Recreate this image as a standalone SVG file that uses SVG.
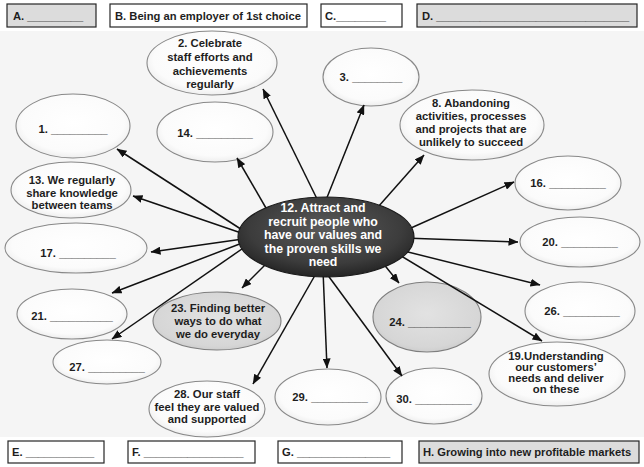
<svg xmlns="http://www.w3.org/2000/svg" width="644" height="467" viewBox="0 0 644 467">
  <style>
    text { font-family: "Liberation Sans", Arial, sans-serif; font-weight: bold; fill: #1e1e1e; }
    .box { stroke: #262626; stroke-width: 1.2; fill: #ffffff; }
    .box.shade { fill: #dcdcdc; }
    .bt { font-size: 11.2px; }
    .node { stroke: #888888; stroke-width: 1.1; fill: url(#gWhite); }
    .node.grey { fill: url(#gGrey); stroke: #7e7e7e; }
    .nt { font-size: 11.3px; text-anchor: middle; }
    .ct { font-size: 12.3px; text-anchor: middle; fill: #ffffff; }
    .link { stroke: #111111; stroke-width: 1.5; fill: none; marker-end: url(#ah); }
  </style>
  <defs>
    <radialGradient id="gWhite" cx="50%" cy="45%" r="60%">
      <stop offset="0" stop-color="#ffffff"/>
      <stop offset="0.75" stop-color="#fbfbfb"/>
      <stop offset="1" stop-color="#e8e8e8"/>
    </radialGradient>
    <radialGradient id="gGrey" cx="50%" cy="45%" r="60%">
      <stop offset="0" stop-color="#e2e2e2"/>
      <stop offset="0.8" stop-color="#d6d6d6"/>
      <stop offset="1" stop-color="#c8c8c8"/>
    </radialGradient>
    <radialGradient id="gDark" cx="50%" cy="40%" r="62%">
      <stop offset="0" stop-color="#5a5a5a"/>
      <stop offset="0.7" stop-color="#3c3c3c"/>
      <stop offset="1" stop-color="#222222"/>
    </radialGradient>
    <marker id="ah" markerWidth="10" markerHeight="8" refX="9.5" refY="4" orient="auto" markerUnits="userSpaceOnUse">
      <path d="M0,0 L10,4 L0,8 Z" fill="#111111"/>
    </marker>
  </defs>

  <!-- page and central panel -->
  <rect x="0" y="0" width="644" height="467" fill="#ffffff"/>
  <rect x="0" y="31" width="644" height="406" fill="#f5f5f5"/>

  <!-- heading boxes -->
  <g id="box-a"><rect class="box shade" x="7" y="4" width="89" height="23"/><text class="bt" x="13" y="20">A. _________</text></g>
  <g id="box-b"><rect class="box" x="110" y="4" width="197" height="23"/><text class="bt" x="115" y="20">B. Being an employer of 1st choice</text></g>
  <g id="box-c"><rect class="box" x="321" y="4" width="81" height="23"/><text class="bt" x="325" y="20">C.________</text></g>
  <g id="box-d"><rect class="box shade" x="417" y="4" width="220" height="23"/><text class="bt" x="422" y="20">D. _______________________________</text></g>

  <g id="box-e"><rect class="box" x="8" y="441" width="96" height="22"/><text class="bt" x="12" y="456">E. ___________</text></g>
  <g id="box-f"><rect class="box" x="128" y="441" width="127" height="22"/><text class="bt" x="132" y="456">F. ________________</text></g>
  <g id="box-g"><rect class="box" x="278" y="441" width="124" height="22"/><text class="bt" x="282" y="456">G. _______________</text></g>
  <g id="box-h"><rect class="box shade" x="419" y="441" width="220" height="22"/><text class="bt" x="423" y="456">H. Growing into new profitable markets</text></g>

  <!-- outer nodes -->
  <g id="n2"><ellipse class="node" cx="212" cy="63" rx="65" ry="32"/>
    <text class="nt" x="210" y="47">2. Celebrate</text>
    <text class="nt" x="210" y="61">staff efforts and</text>
    <text class="nt" x="210" y="75">achievements</text>
    <text class="nt" x="210" y="88">regularly</text></g>
  <g id="n3"><ellipse class="node" cx="371" cy="77" rx="48" ry="29"/><text class="nt" x="371" y="81">3. ________</text></g>
  <g id="n14"><ellipse class="node" cx="215" cy="132" rx="58" ry="30"/><text class="nt" x="215" y="137">14. _________</text></g>
  <g id="n1"><ellipse class="node" cx="73" cy="126" rx="57" ry="32"/><text class="nt" x="73" y="133">1. _________</text></g>
  <g id="n8"><ellipse class="node" cx="472" cy="125" rx="72" ry="35"/>
    <text class="nt" x="471" y="107">8. Abandoning</text>
    <text class="nt" x="471" y="120">activities, processes</text>
    <text class="nt" x="471" y="133">and projects that are</text>
    <text class="nt" x="471" y="146">unlikely to succeed</text></g>
  <g id="n13"><ellipse class="node" cx="71" cy="190" rx="60" ry="28"/>
    <text class="nt" x="72" y="184">13. We regularly</text>
    <text class="nt" x="72" y="197">share knowledge</text>
    <text class="nt" x="72" y="209">between teams</text></g>
  <g id="n16"><ellipse class="node" cx="568" cy="183" rx="53" ry="27"/><text class="nt" x="568" y="187">16. _________</text></g>
  <g id="n17"><ellipse class="node" cx="76" cy="248" rx="71" ry="25"/><text class="nt" x="78" y="257">17. _________</text></g>
  <g id="n20"><ellipse class="node" cx="580" cy="242" rx="60" ry="25"/><text class="nt" x="580" y="246">20. _________</text></g>
  <g id="n21"><ellipse class="node" cx="72" cy="314" rx="55" ry="25"/><text class="nt" x="72" y="320">21. __________</text></g>
  <g id="n23"><ellipse class="node grey" cx="217" cy="321" rx="64" ry="29"/>
    <text class="nt" x="218" y="312">23. Finding better</text>
    <text class="nt" x="218" y="325">ways to do what</text>
    <text class="nt" x="218" y="338">we do everyday</text></g>
  <g id="n24"><ellipse class="node grey" cx="427" cy="317" rx="54" ry="35"/><text class="nt" x="430" y="326">24. __________</text></g>
  <g id="n26"><ellipse class="node" cx="580" cy="311" rx="55" ry="29"/><text class="nt" x="582" y="315">26. _________</text></g>
  <g id="n27"><ellipse class="node" cx="107" cy="362" rx="54" ry="22"/><text class="nt" x="107" y="371">27. _________</text></g>
  <g id="n19"><ellipse class="node" cx="557" cy="374" rx="68" ry="32"/>
    <text class="nt" x="556" y="360">19.Understanding</text>
    <text class="nt" x="556" y="371">our customers’</text>
    <text class="nt" x="556" y="382">needs and deliver</text>
    <text class="nt" x="556" y="393">on these</text></g>
  <g id="n28"><ellipse class="node" cx="207" cy="409" rx="58" ry="28"/>
    <text class="nt" x="207" y="398">28. Our staff</text>
    <text class="nt" x="207" y="411">feel they are valued</text>
    <text class="nt" x="207" y="423">and supported</text></g>
  <g id="n29"><ellipse class="node" cx="328" cy="397" rx="53" ry="28"/><text class="nt" x="330" y="401">29. _________</text></g>
  <g id="n30"><ellipse class="node" cx="434" cy="396" rx="48" ry="28"/><text class="nt" x="434" y="403">30. _________</text></g>

  <!-- connectors from the central goal -->
  <g id="connectors">
    <line class="link" x1="320" y1="205" x2="263" y2="89"/>
    <line class="link" x1="324" y1="205" x2="364" y2="105"/>
    <line class="link" x1="270" y1="215" x2="237" y2="158"/>
    <line class="link" x1="250" y1="235" x2="117" y2="149"/>
    <line class="link" x1="250" y1="236" x2="133" y2="196"/>
    <line class="link" x1="250" y1="238" x2="151" y2="252"/>
    <line class="link" x1="250" y1="240" x2="112" y2="293"/>
    <line class="link" x1="252" y1="242" x2="112" y2="339"/>
    <line class="link" x1="268" y1="262" x2="242" y2="288"/>
    <line class="link" x1="318" y1="270" x2="253" y2="384"/>
    <line class="link" x1="323" y1="270" x2="327" y2="368"/>
    <line class="link" x1="324" y1="270" x2="402" y2="376"/>
    <line class="link" x1="382" y1="262" x2="399" y2="283"/>
    <line class="link" x1="398" y1="254" x2="542" y2="341"/>
    <line class="link" x1="400" y1="250" x2="540" y2="285"/>
    <line class="link" x1="404" y1="238" x2="518" y2="242"/>
    <line class="link" x1="402" y1="232" x2="514" y2="182"/>
    <line class="link" x1="378" y1="207" x2="424" y2="155"/>
  </g>

  <!-- central goal -->
  <g id="n12"><ellipse cx="326" cy="237" rx="88" ry="40" fill="url(#gDark)" stroke="#1a1a1a" stroke-width="1.2"/>
    <text class="ct" x="323" y="212">12.  Attract and</text>
    <text class="ct" x="323" y="226">recruit people who</text>
    <text class="ct" x="323" y="239">have our values and</text>
    <text class="ct" x="323" y="253">the proven skills we</text>
    <text class="ct" x="323" y="266">need</text></g>
</svg>
